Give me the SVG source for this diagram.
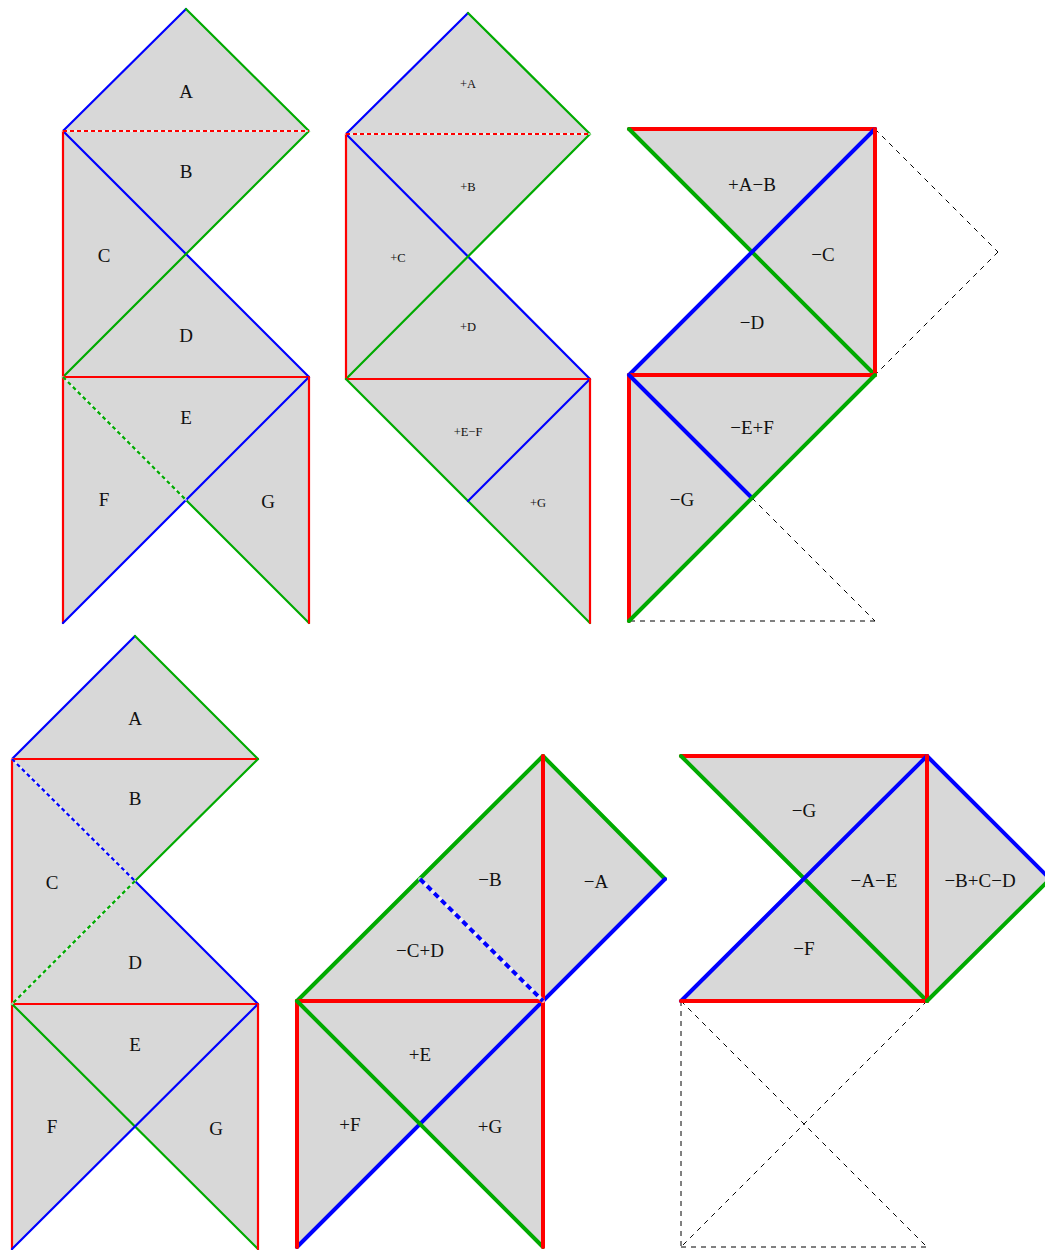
<svg xmlns="http://www.w3.org/2000/svg" width="1045" height="1250" viewBox="0 0 1045 1250">
<style>
.fill{fill:#d8d8d8;stroke:none}
line{stroke-linecap:round;fill:none}
.r{stroke:#ff0000}.g{stroke:#00aa00}.b{stroke:#0000ff}
.t{stroke-width:2.2}.T{stroke-width:4}
.gap{stroke:#ffffff;stroke-opacity:0.6}
.d{stroke-dasharray:4 3;stroke-linecap:butt}
.D{stroke-dasharray:6 4;stroke-linecap:butt}
.k{stroke:#000;stroke-width:1;stroke-dasharray:5 5;stroke-linecap:butt}
text{font-family:"Liberation Serif","Times New Roman",serif;font-size:19px;fill:#111;text-anchor:middle;dominant-baseline:central}
.s{font-size:12.5px}
</style>
<g id="panel1">
<polygon class="fill" points="186,9 309,131 186,254 309,377 309,623 186,500 63,623 63,131"/>
<line class="b t" x1="63" y1="131" x2="186" y2="9"/>
<line class="g t" x1="186" y1="9" x2="309" y2="131"/>
<line class="b t" x1="63" y1="131" x2="309" y2="377"/>
<line class="g t" x1="309" y1="131" x2="63" y2="377"/>
<line class="r t" x1="63" y1="131" x2="63" y2="623"/>
<line class="r t" x1="63" y1="377" x2="309" y2="377"/>
<line class="g t" x1="186" y1="500" x2="309" y2="623"/>
<line class="b t" x1="309" y1="377" x2="63" y2="623"/>
<line class="r t" x1="309" y1="377" x2="309" y2="623"/>
<line class="gap t" x1="63" y1="131" x2="309" y2="131"/>
<line class="r t d" x1="63" y1="131" x2="309" y2="131"/>
<line class="gap t" x1="63" y1="377" x2="186" y2="500"/>
<line class="g t d" x1="63" y1="377" x2="186" y2="500"/>
<text x="186" y="91">A</text>
<text x="186" y="171">B</text>
<text x="104" y="255">C</text>
<text x="186" y="335">D</text>
<text x="186" y="417">E</text>
<text x="104" y="499">F</text>
<text x="268" y="501">G</text>
</g>
<g id="panel2">
<polygon class="fill" points="468,13 590,134 468,257 590,379 590,623 346,379 346,134"/>
<line class="b t" x1="346" y1="134" x2="468" y2="13"/>
<line class="g t" x1="468" y1="13" x2="590" y2="134"/>
<line class="b t" x1="346" y1="134" x2="590" y2="379"/>
<line class="g t" x1="590" y1="134" x2="346" y2="379"/>
<line class="r t" x1="346" y1="134" x2="346" y2="379"/>
<line class="r t" x1="346" y1="379" x2="590" y2="379"/>
<line class="g t" x1="346" y1="379" x2="590" y2="623"/>
<line class="b t" x1="590" y1="379" x2="468" y2="501"/>
<line class="r t" x1="590" y1="379" x2="590" y2="623"/>
<line class="gap t" x1="346" y1="134" x2="590" y2="134"/>
<line class="r t d" x1="346" y1="134" x2="590" y2="134"/>
<text class="s" x="468" y="84">+A</text>
<text class="s" x="468" y="187">+B</text>
<text class="s" x="398" y="258">+C</text>
<text class="s" x="468" y="327">+D</text>
<text class="s" x="468" y="432">+E−F</text>
<text class="s" x="538" y="503">+G</text>
</g>
<g id="panel3">
<polygon class="fill" points="629,129 875,129 875,375 629,621 629,375 752,252"/>
<line class="k" x1="875" y1="129" x2="998" y2="252"/>
<line class="k" x1="998" y1="252" x2="875" y2="375"/>
<line class="k" x1="752" y1="498" x2="875" y2="621"/>
<line class="k" x1="875" y1="621" x2="629" y2="621"/>
<line class="r T" x1="629" y1="129" x2="875" y2="129"/>
<line class="g T" x1="629" y1="129" x2="875" y2="375"/>
<line class="b T" x1="629" y1="375" x2="875" y2="129"/>
<line class="r T" x1="875" y1="129" x2="875" y2="375"/>
<line class="r T" x1="629" y1="375" x2="875" y2="375"/>
<line class="r T" x1="629" y1="375" x2="629" y2="621"/>
<line class="b T" x1="629" y1="375" x2="752" y2="498"/>
<line class="g T" x1="875" y1="375" x2="629" y2="621"/>
<text x="752" y="184">+A−B</text>
<text x="823" y="254">−C</text>
<text x="752" y="322">−D</text>
<text x="752" y="427">−E+F</text>
<text x="682" y="499">−G</text>
</g>
<g id="panel4">
<polygon class="fill" points="135,636 258,759 135,881 258,1004 258,1249 135,1127 12,1249 12,759"/>
<line class="b t" x1="12" y1="759" x2="135" y2="636"/>
<line class="g t" x1="135" y1="636" x2="258" y2="759"/>
<line class="r t" x1="12" y1="759" x2="258" y2="759"/>
<line class="b t" x1="135" y1="881" x2="258" y2="1004"/>
<line class="g t" x1="258" y1="759" x2="135" y2="881"/>
<line class="r t" x1="12" y1="759" x2="12" y2="1249"/>
<line class="r t" x1="12" y1="1004" x2="258" y2="1004"/>
<line class="g t" x1="12" y1="1004" x2="258" y2="1249"/>
<line class="b t" x1="258" y1="1004" x2="12" y2="1249"/>
<line class="r t" x1="258" y1="1004" x2="258" y2="1249"/>
<line class="gap t" x1="12" y1="759" x2="135" y2="881"/>
<line class="b t d" x1="12" y1="759" x2="135" y2="881"/>
<line class="gap t" x1="135" y1="881" x2="12" y2="1004"/>
<line class="g t d" x1="135" y1="881" x2="12" y2="1004"/>
<text x="135" y="718">A</text>
<text x="135" y="798">B</text>
<text x="52" y="882">C</text>
<text x="135" y="962">D</text>
<text x="135" y="1044">E</text>
<text x="52" y="1126">F</text>
<text x="216" y="1128">G</text>
</g>
<g id="panel5">
<polygon class="fill" points="543,756 665,879 543,1001 543,1247 420,1124 297,1247 297,1001"/>
<line class="g T" x1="297" y1="1001" x2="543" y2="756"/>
<line class="g T" x1="543" y1="756" x2="665" y2="879"/>
<line class="b T" x1="665" y1="879" x2="297" y2="1247"/>
<line class="r T" x1="543" y1="756" x2="543" y2="1001"/>
<line class="r T" x1="297" y1="1001" x2="543" y2="1001"/>
<line class="r T" x1="297" y1="1001" x2="297" y2="1247"/>
<line class="g T" x1="297" y1="1001" x2="543" y2="1247"/>
<line class="r T" x1="543" y1="1001" x2="543" y2="1247"/>
<line class="gap T" x1="420" y1="879" x2="543" y2="1001"/>
<line class="b T D" x1="420" y1="879" x2="543" y2="1001"/>
<text x="490" y="879">−B</text>
<text x="596" y="881">−A</text>
<text x="420" y="950">−C+D</text>
<text x="420" y="1054">+E</text>
<text x="350" y="1124">+F</text>
<text x="490" y="1126">+G</text>
</g>
<g id="panel6">
<polygon class="fill" points="681,756 927,756 1050,879 927,1001 681,1001 804,879"/>
<line class="k" x1="681" y1="1001" x2="681" y2="1247"/>
<line class="k" x1="681" y1="1247" x2="927" y2="1247"/>
<line class="k" x1="681" y1="1001" x2="927" y2="1247"/>
<line class="k" x1="927" y1="1001" x2="681" y2="1247"/>
<line class="r T" x1="681" y1="756" x2="927" y2="756"/>
<line class="g T" x1="681" y1="756" x2="927" y2="1001"/>
<line class="b T" x1="681" y1="1001" x2="927" y2="756"/>
<line class="b T" x1="927" y1="756" x2="1050" y2="879"/>
<line class="r T" x1="927" y1="756" x2="927" y2="1001"/>
<line class="r T" x1="681" y1="1001" x2="927" y2="1001"/>
<line class="g T" x1="927" y1="1001" x2="1050" y2="879"/>
<text x="804" y="810">−G</text>
<text x="874" y="880">−A−E</text>
<text x="980" y="880">−B+C−D</text>
<text x="804" y="948">−F</text>
</g>
</svg>
